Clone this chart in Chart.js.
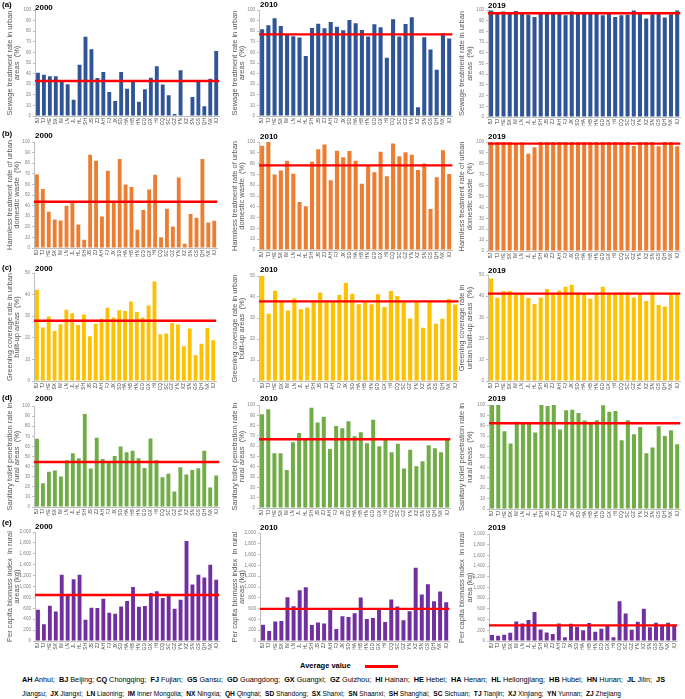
<!DOCTYPE html>
<html><head><meta charset="utf-8">
<script src="https://cdn.jsdelivr.net/npm/chart.js@4"></script>
<style>
body{margin:0;width:685px;height:699px;position:relative;background:#fff;overflow:hidden;font-family:'Liberation Sans',Arial,sans-serif}
canvas{position:absolute}
.lbl{position:absolute;font-weight:bold;font-size:8px;color:#000;line-height:1;white-space:nowrap}
.key{position:absolute;left:22px;font-family:'Liberation Sans Narrow','Liberation Sans',Arial,sans-serif;font-size:7.4px;color:#000;white-space:pre;line-height:1;transform-origin:0 50%}
.key b{font-weight:bold}
</style></head><body>
<div id="root"></div>
<div class="lbl" style="left:300px;top:662px;font-size:7.5px">Average value</div>
<div style="position:absolute;left:365px;top:665px;width:33px;height:2.5px;background:#ff0000"></div>
<div class="key" id="key1" data-w="643" style="top:676px"><b>AH</b> Anhui;  <b>BJ</b> Beijing; <b>CQ</b> Chongqing;  <b>FJ</b> Fujian;  <b>GS</b> Gansu;  <b>GD</b> Guangdong;  <b>GX</b> Guangxi;  <b>GZ</b> Guizhou;  <b>HI</b> Hainan;  <b>HE</b> Hebei;  <b>HA</b> Henan;  <b>HL</b> Heilongjiang;  <b>HB</b> Hubei;  <b>HN</b> Hunan;  <b>JL</b> Jilin;  <b>JS</b></div>
<div class="key" id="key2" data-w="599" style="top:690px">Jiangsu;  <b>JX</b> Jiangxi;  <b>LN</b> Liaoning;  <b>IM</b> Inner Mongolia;  <b>NX</b> Ningxia;  <b>QH</b> Qinghai;  <b>SD</b> Shandong;  <b>SX</b> Shanxi;  <b>SN</b> Shaanxi;  <b>SH</b> Shanghai;  <b>SC</b> Sichuan;  <b>TJ</b> Tianjin;  <b>XJ</b> Xinjiang;  <b>YN</b> Yunnan;  <b>ZJ</b> Zhejiang</div>
<script>
// ---------- DATA ----------
const provinces = ['BJ','TJ','HE','SX','IM','LN','JL','HL','SH','JS','ZJ','AH','FJ','JX','SD','HA','HB','HN','GD','GX','HI','CQ','SC','GZ','YN','XZ','SN','GS','QH','NX','XJ'];
const years = ['2000','2010','2019'];
const panelLetters = ['(a)','(b)','(c)','(d)','(e)'];

const sewage2000 = [40.9,39,37.4,37.4,32.7,29.9,15.4,48.4,74.8,62.9,35.8,41.5,22.6,14.2,41.5,25.8,34,13.5,25.2,36.2,46.9,29.6,19.5,1.9,43.1,null,17.9,32.7,9.1,35.2,61.3];
const sewage2010 = [81.8,85.6,92.2,85,76.8,75.2,74,56.7,83,87.1,82.8,88.7,84.3,80.9,90.6,87.5,81.2,74.9,86.5,83.7,54.9,91.2,74.9,86.8,93.1,8.2,74.3,62.7,43.6,78,73];
const sewage2019 = [99.5,96.5,98.5,96.5,99,98,95.5,93.5,96.5,96.5,96.5,98,95,98.5,97.5,98,96.5,97,95,96.5,93.5,95,95.5,99.5,97.5,92,96,96.5,93,96,99.5];
const sewageAvg = [33, 77, 96.9];

const waste2000 = [69.3,55.7,34.2,26.9,25.9,39.9,43.7,22.2,7.9,88,82.3,29.7,72.8,43.7,83.9,59.8,57.6,17.1,35.8,55.1,69,10.1,37,20.3,66.5,4.1,32,28.5,83.9,24,25.6];
const waste2010 = [96.6,100,69.8,73.5,82.7,70.7,44.4,40.4,81.8,93.2,97.8,64.5,92,85.8,91.7,82.7,61.4,78.4,71.9,91,68.2,98.5,86.7,90.4,88.3,74.1,80,38,67.3,92.3,70.4];
const waste2019 = [99.9,100,100,100,99,99.5,89.3,95.1,100,100,100,100,100,100,100,100,100,100,100,100,100,100,100,96.3,100,100,100,96,100,100,96];
const wasteAvg = [43.7, 78.4, 98.5];

const green2000 = [42.3,24.8,29.9,23.2,26.3,33,31.4,25.9,30.8,20.7,26.5,28.8,33.9,29.4,32.7,32.4,36.8,31.9,29.4,35,46.1,21.7,22,26.8,26.2,16.1,24.3,11.9,17.3,24.5,18.9];
const green2010 = [50,32,43,38,33.6,39.3,34.2,35,38.3,42.1,38.5,37.9,41,46.7,41.5,36.6,37.5,36.6,41.3,35.2,42.9,40.5,37.5,29.8,37.5,25.4,38.3,27.3,29.7,39,36.4];
const green2019 = [48.4,39.3,42.4,42.4,40.9,40.9,39.1,36.3,39.4,43.4,40.9,42.7,44.5,45.4,41.8,40.9,38.8,40.9,44.5,40.9,41.6,41.8,41.8,39.4,40.9,37.7,41.8,35.8,35.2,40.9,40.9];
const greenAvg = [27.9, 37.9, 41.2];

const toilet2000 = [67.5,23.6,34.8,36.1,30.2,46.2,53.1,48.2,92.1,38,68.5,47.5,44.3,50.5,60,54.1,55.7,48.2,38.7,67.9,46.2,29.5,32.8,15.4,39.3,32.1,36.7,38.4,55.7,19.3,31.1];
const toilet2010 = [91,95.8,53.2,53.2,36.8,63.9,72.9,66.5,97.4,82.9,88.7,57.4,79.7,77.4,84.2,69.7,73.5,62.9,85.8,60,66.8,54.2,62.3,38.4,56.5,40.6,45.5,61,58.1,54.2,67.1];
const toilet2019 = [100,100,74.8,62.9,84,81.8,82.7,73.5,100,99,100,76.4,94.9,95.5,92.3,85,82.4,85.3,99.7,93.6,94.2,66.1,85.3,71.9,78.9,53.7,59.1,79.6,70.3,75.7,62.3];
const toiletAvg = [44.6, 66.8, 82.4];

const biomass2000 = [573,308,647,543,1215,845,1134,1215,388,610,604,777,518,499,635,734,993,629,641,882,912,789,851,592,758,1837,1036,1215,1165,1400,1122];
const biomass2010 = [303,186,359,372,811,644,941,997,297,341,322,576,223,458,446,514,805,409,427,594,353,768,638,384,551,1356,861,1053,737,916,718];
const biomass2019 = [112,99,118,155,366,329,391,540,217,161,130,329,68,323,267,199,335,174,230,280,68,745,516,211,360,602,255,342,292,342,286];
const biomassAvg = [845, 594, 292];

const yTitles = [
  [['Sewage treatment rate in urban','areas  (%)'],['Sewage treatment rate in urban','areas  (%)'],['Sewage treatment rate in urban','areas  (%)']],
  [['Harmless treatment rate of urban','domestic waste  (%)'],['Harmless treatment rate of urban','domestic waste  (%)'],['Harmless treatment rate of urban','domestic waste  (%)']],
  [['Greening coverage rate in urban','built-up areas  (%)'],['Greening coverage rate in urban','built-up areas  (%)'],['Greening coverage rate in','urban built-up areas  (%)']],
  [['Sanitary toilet penetration rate in','rural areas  (%)'],['Sanitary toilet penetration rate in','rural areas  (%)'],['Sanitary toilet penetration rate in','rural areas  (%)']],
  [['Per capita biomass index  in rural','areas (kg)'],['Per capita biomass index  in rural','areas (kg)'],['Per capita biomass index  in rural','area (kg)']]
];
const yMax = [100,100,50,100,2000];
const yStep = [10,10,10,10,200];

// ---------- LAYOUT / STYLE ----------
const rowSeries = [
  [sewage2000, sewage2010, sewage2019],
  [waste2000, waste2010, waste2019],
  [green2000, green2010, green2019],
  [toilet2000, toilet2010, toilet2019],
  [biomass2000, biomass2010, biomass2019]
];
const rowAvg = [sewageAvg, wasteAvg, greenAvg, toiletAvg, biomassAvg];
const rowColor = ['#2F5597','#ED7D31','#FFC000','#70AD47','#7030A0'];
const colLeft = [0, 228, 458];
const titlePad = [6, 3, 0.5];
const boxes = [
  [{l:35,r:222,t:10,b:116},{l:259,r:455,t:10,b:116},{l:488,r:683,t:10,b:117}],
  [{l:34,r:220,t:142,b:248},{l:259,r:455,t:142,b:250},{l:488,r:683,t:142,b:251}],
  [{l:34,r:219,t:273,b:381},{l:259,r:461,t:276,b:381},{l:488,r:683,t:275,b:381}],
  [{l:34,r:222,t:406,b:507},{l:259,r:453,t:405,b:508},{l:489,r:683,t:405,b:509}],
  [{l:35,r:222,t:532,b:641},{l:260,r:452,t:533,b:641},{l:489,r:680,t:534,b:641}]
];
const letterTop = [1,130,264,394,519];
const yearTop = [[4,1,2],[132,133,133],[265,266,267],[395,395,395],[523,524,524]];
const yearLeft = [35,260,488];

Chart.defaults.font.family = "'Liberation Sans', Arial, sans-serif";
Chart.defaults.animation = false;

const avgLine = {
  id:'avgLine',
  afterDatasetsDraw(chart, args, opts){
    const y = chart.scales.y.getPixelForValue(opts.value);
    const {left,right} = chart.chartArea;
    const ctx = chart.ctx;
    ctx.save();
    ctx.strokeStyle = '#ff0000';
    ctx.lineWidth = 2.4;
    ctx.beginPath(); ctx.moveTo(left, y); ctx.lineTo(right, y); ctx.stroke();
    ctx.restore();
  }
};

// fit legend key lines to their widths in the reference
document.querySelectorAll('.key').forEach(k => {
  const target = +k.dataset.w;
  const w = k.getBoundingClientRect().width;
  if (w > 0) k.style.transform = 'scaleX(' + (target / w) + ')';
});

const root = document.getElementById('root');
function addLabel(text, left, top){
  const d = document.createElement('div');
  d.className = 'lbl'; d.textContent = text;
  d.style.left = left + 'px'; d.style.top = top + 'px';
  document.body.appendChild(d);
}

for (let r = 0; r < 5; r++) {
  addLabel(panelLetters[r], 2, letterTop[r]);
  for (let c = 0; c < 3; c++) {
    addLabel(years[c], yearLeft[c], yearTop[r][c]);
    const bx = boxes[r][c];
    const padTop = 5, padRight = 2, xH = 12;
    const cLeft = colLeft[c];
    const cTop = bx.t - padTop;
    const w = bx.r + padRight - cLeft;
    const h = bx.b + xH - cTop;
    const cv = document.createElement('canvas');
    cv.width = w; cv.height = h;
    cv.style.left = cLeft + 'px'; cv.style.top = cTop + 'px';
    cv.style.width = w + 'px'; cv.style.height = h + 'px';
    root.appendChild(cv);
    const yW = bx.l - cLeft;
    new Chart(cv, {
      type: 'bar',
      data: {
        labels: provinces,
        datasets: [{ data: rowSeries[r][c], backgroundColor: rowColor[r], barPercentage: 0.65, categoryPercentage: 1 }]
      },
      options: {
        responsive: false,
        devicePixelRatio: 1,
        layout: { padding: { top: padTop, right: padRight, bottom: 0, left: 0 } },
        plugins: { legend: { display: false }, tooltip: { enabled: false }, avgLine: { value: rowAvg[r][c] } },
        scales: {
          x: {
            grid: { display: true, drawOnChartArea: false, drawTicks: false, color: '#bfbfbf' },
            border: { display: true, color: '#bfbfbf' },
            ticks: { autoSkip: false, minRotation: 90, maxRotation: 90, padding: 2, color: '#404040', font: { size: 4.8 } },
            afterFit: s => { s.height = xH; }
          },
          y: {
            min: 0, max: yMax[r],
            grid: { display: true, drawOnChartArea: false, drawTicks: true, tickLength: 2, color: '#bfbfbf' },
            border: { display: true, color: '#bfbfbf' },
            ticks: { stepSize: yStep[r], padding: 2, color: '#808080', font: { size: 4.6 },
              callback: v => v.toLocaleString('en-US') },
            title: { display: true, text: yTitles[r][c], color: '#595959', font: { size: 7.5, lineHeight: 1 }, padding: { top: titlePad[c], bottom: 0 } },
            afterFit: s => { s.width = yW; }
          }
        }
      },
      plugins: [avgLine]
    });
  }
}
</script>
</body></html>
